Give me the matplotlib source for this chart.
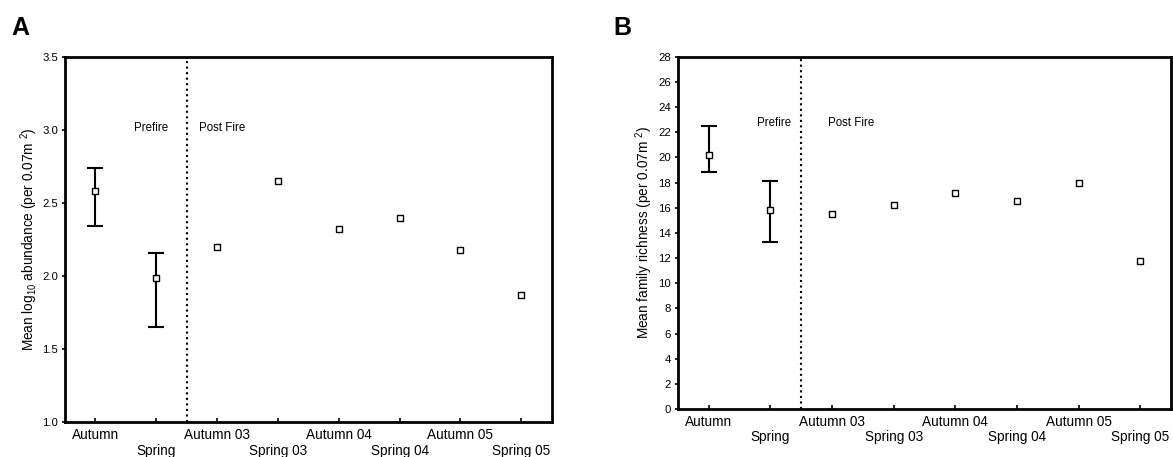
import matplotlib
matplotlib.use("Agg")
import matplotlib.pyplot as plt
import numpy as np

plt.rcParams['font.family'] = ['Liberation Sans', 'DejaVu Sans']
plt.rcParams['mathtext.fontset'] = 'custom'
plt.rcParams['mathtext.rm'] = 'Liberation Sans'
plt.rcParams['mathtext.default'] = 'regular'

seasons = ['Autumn', 'Spring', 'Autumn 03', 'Spring 03',
           'Autumn 04', 'Spring 04', 'Autumn 05', 'Spring 05']

# panel A: mean log10 abundance
abund_mean = [2.58, 1.99, 2.20, 2.65, 2.32, 2.40, 2.18, 1.87]
abund_hi = [2.74, 2.16]   # prefire error bar tops
abund_lo = [2.34, 1.65]   # prefire error bar bottoms

# panel B: mean family richness
rich_mean = [20.2, 15.8, 15.5, 16.2, 17.15, 16.5, 18.0, 11.8]
rich_hi = [22.5, 18.15]
rich_lo = [18.8, 13.3]

fig = plt.figure(figsize=(11.73, 4.57), dpi=100)
axA = fig.add_axes([0.0554, 0.0759, 0.4149, 0.800])
axB = fig.add_axes([0.578, 0.105, 0.4203, 0.771])

x = np.arange(len(seasons))
xlabels = [s if i % 2 == 0 else '\n' + s for i, s in enumerate(seasons)]


def draw(ax, mean, hi, lo, ylim, yticks, yfmt, ylabel, pre_y, pre_x, post_x):
    mean = np.array(mean)
    n = len(hi)
    yerr = [mean[:n] - np.array(lo), np.array(hi) - mean[:n]]
    ax.errorbar(x[:n], mean[:n], yerr=yerr, fmt='none', ecolor='black',
                elinewidth=1.5, capsize=5.5, capthick=1.5, zorder=2)
    ax.plot(x, mean, 's', ms=5, mfc='white', mec='black', mew=1.0, zorder=3)
    ax.axvline(1.5, color='black', ls=':', lw=1.5)
    ax.set_xlim(-0.5, 7.5)
    ax.set_ylim(*ylim)
    ax.set_yticks(yticks)
    ax.set_yticklabels([yfmt % v for v in yticks], fontsize=8.2)
    ax.set_xticks(x)
    ax.set_xticklabels(xlabels, fontsize=9.8, linespacing=1.15)
    ax.tick_params(axis='x', direction='in', length=3, width=1.2, pad=4)
    ax.tick_params(axis='y', direction='out', length=2, width=1.2, pad=3)
    for sp in ax.spines.values():
        sp.set_linewidth(2.0)
    ax.set_ylabel(ylabel, fontsize=9.8)
    ax.text(pre_x, pre_y, 'Prefire', fontsize=8.3, ha='center', va='center')
    ax.text(post_x, pre_y, 'Post Fire', fontsize=8.3, ha='center', va='center')


draw(axA, abund_mean, abund_hi, abund_lo, (1.0, 3.5),
     [1.0, 1.5, 2.0, 2.5, 3.0, 3.5], '%.1f',
     'Mean log$_{10}$ abundance (per 0.07m $^{2}$)', 3.015, 0.91, 2.08)
axA.yaxis.set_label_coords(-0.052, 0.5)

draw(axB, rich_mean, rich_hi, rich_lo, (0, 28),
     list(range(0, 29, 2)), '%d',
     'Mean family richness (per 0.07m $^{2}$)', 22.7, 1.06, 2.31)
axB.yaxis.set_label_coords(-0.047, 0.5)

fig.text(0.010, 0.965, 'A', fontsize=18, fontweight='bold', va='top', ha='left')
fig.text(0.523, 0.965, 'B', fontsize=18, fontweight='bold', va='top', ha='left')

fig.savefig('out.png', dpi=100)
